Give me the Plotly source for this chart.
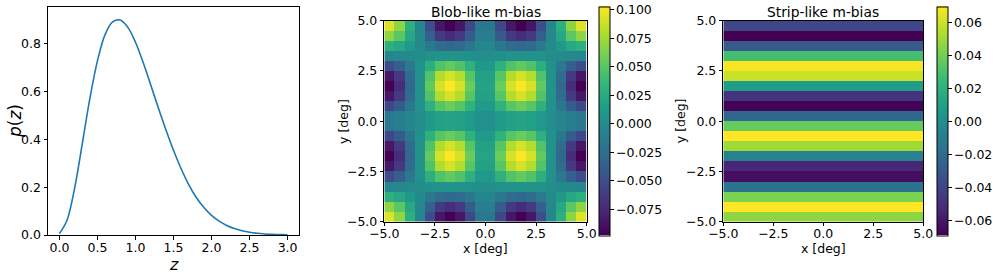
import plotly.graph_objects as go

# ---------------- data ----------------
z_grid = [0.0, 0.1, 0.2, 0.3, 0.4, 0.5, 0.6, 0.7, 0.8, 0.9, 1.0,
          1.1, 1.2, 1.3, 1.4, 1.5, 1.6, 1.7, 1.8, 1.9, 2.0,
          2.1, 2.2, 2.3, 2.4, 2.5, 2.6, 2.7, 2.8, 2.9, 3.0]
p_z = [0.006, 0.062, 0.196, 0.380, 0.570, 0.728, 0.838, 0.891, 0.899, 0.868, 0.806,
       0.722, 0.628, 0.532, 0.440, 0.354, 0.277, 0.211, 0.157, 0.115, 0.082,
       0.058, 0.040, 0.027, 0.018, 0.0115, 0.0072, 0.0044, 0.0026, 0.0015, 0.0008]

cell_centers = [-4.75, -4.25, -3.75, -3.25, -2.75, -2.25, -1.75, -1.25, -0.75, -0.25,
                0.25, 0.75, 1.25, 1.75, 2.25, 2.75, 3.25, 3.75, 4.25, 4.75]
row_centers_top_down = [4.75, 4.25, 3.75, 3.25, 2.75, 2.25, 1.75, 1.25, 0.75, 0.25,
                        -0.25, -0.75, -1.25, -1.75, -2.25, -2.75, -3.25, -3.75, -4.25, -4.75]

# blob-like m-bias, rows listed from top (y=4.75) to bottom (y=-4.75)
blob_bias = [
    [0.0930, 0.0685, 0.0294, -0.0049, -0.0509, -0.0861, -0.0979, -0.0861, -0.0538, -0.0176, -0.0176, -0.0538, -0.0861, -0.0979, -0.0861, -0.0509, -0.0049, 0.0294, 0.0685, 0.0930],
    [0.0685, 0.0505, 0.0216, -0.0036, -0.0375, -0.0634, -0.0721, -0.0634, -0.0397, -0.0130, -0.0130, -0.0397, -0.0634, -0.0721, -0.0634, -0.0375, -0.0036, 0.0216, 0.0505, 0.0685],
    [0.0294, 0.0216, 0.0093, -0.0015, -0.0161, -0.0272, -0.0309, -0.0272, -0.0170, -0.0056, -0.0056, -0.0170, -0.0272, -0.0309, -0.0272, -0.0161, -0.0015, 0.0093, 0.0216, 0.0294],
    [-0.0049, -0.0036, -0.0015, 0.0003, 0.0027, 0.0045, 0.0052, 0.0045, 0.0028, 0.0009, 0.0009, 0.0028, 0.0045, 0.0052, 0.0045, 0.0027, 0.0003, -0.0015, -0.0036, -0.0049],
    [-0.0509, -0.0375, -0.0161, 0.0027, 0.0279, 0.0471, 0.0536, 0.0471, 0.0295, 0.0096, 0.0096, 0.0295, 0.0471, 0.0536, 0.0471, 0.0279, 0.0027, -0.0161, -0.0375, -0.0509],
    [-0.0861, -0.0634, -0.0272, 0.0045, 0.0471, 0.0798, 0.0906, 0.0798, 0.0499, 0.0163, 0.0163, 0.0499, 0.0798, 0.0906, 0.0798, 0.0471, 0.0045, -0.0272, -0.0634, -0.0861],
    [-0.0979, -0.0721, -0.0309, 0.0052, 0.0536, 0.0906, 0.1030, 0.0906, 0.0567, 0.0185, 0.0185, 0.0567, 0.0906, 0.1030, 0.0906, 0.0536, 0.0052, -0.0309, -0.0721, -0.0979],
    [-0.0861, -0.0634, -0.0272, 0.0045, 0.0471, 0.0798, 0.0906, 0.0798, 0.0499, 0.0163, 0.0163, 0.0499, 0.0798, 0.0906, 0.0798, 0.0471, 0.0045, -0.0272, -0.0634, -0.0861],
    [-0.0538, -0.0397, -0.0170, 0.0028, 0.0295, 0.0499, 0.0567, 0.0499, 0.0312, 0.0102, 0.0102, 0.0312, 0.0499, 0.0567, 0.0499, 0.0295, 0.0028, -0.0170, -0.0397, -0.0538],
    [-0.0176, -0.0130, -0.0056, 0.0009, 0.0096, 0.0163, 0.0185, 0.0163, 0.0102, 0.0033, 0.0033, 0.0102, 0.0163, 0.0185, 0.0163, 0.0096, 0.0009, -0.0056, -0.0130, -0.0176],
    [-0.0176, -0.0130, -0.0056, 0.0009, 0.0096, 0.0163, 0.0185, 0.0163, 0.0102, 0.0033, 0.0033, 0.0102, 0.0163, 0.0185, 0.0163, 0.0096, 0.0009, -0.0056, -0.0130, -0.0176],
    [-0.0538, -0.0397, -0.0170, 0.0028, 0.0295, 0.0499, 0.0567, 0.0499, 0.0312, 0.0102, 0.0102, 0.0312, 0.0499, 0.0567, 0.0499, 0.0295, 0.0028, -0.0170, -0.0397, -0.0538],
    [-0.0861, -0.0634, -0.0272, 0.0045, 0.0471, 0.0798, 0.0906, 0.0798, 0.0499, 0.0163, 0.0163, 0.0499, 0.0798, 0.0906, 0.0798, 0.0471, 0.0045, -0.0272, -0.0634, -0.0861],
    [-0.0979, -0.0721, -0.0309, 0.0052, 0.0536, 0.0906, 0.1030, 0.0906, 0.0567, 0.0185, 0.0185, 0.0567, 0.0906, 0.1030, 0.0906, 0.0536, 0.0052, -0.0309, -0.0721, -0.0979],
    [-0.0861, -0.0634, -0.0272, 0.0045, 0.0471, 0.0798, 0.0906, 0.0798, 0.0499, 0.0163, 0.0163, 0.0499, 0.0798, 0.0906, 0.0798, 0.0471, 0.0045, -0.0272, -0.0634, -0.0861],
    [-0.0509, -0.0375, -0.0161, 0.0027, 0.0279, 0.0471, 0.0536, 0.0471, 0.0295, 0.0096, 0.0096, 0.0295, 0.0471, 0.0536, 0.0471, 0.0279, 0.0027, -0.0161, -0.0375, -0.0509],
    [-0.0049, -0.0036, -0.0015, 0.0003, 0.0027, 0.0045, 0.0052, 0.0045, 0.0028, 0.0009, 0.0009, 0.0028, 0.0045, 0.0052, 0.0045, 0.0027, 0.0003, -0.0015, -0.0036, -0.0049],
    [0.0294, 0.0216, 0.0093, -0.0015, -0.0161, -0.0272, -0.0309, -0.0272, -0.0170, -0.0056, -0.0056, -0.0170, -0.0272, -0.0309, -0.0272, -0.0161, -0.0015, 0.0093, 0.0216, 0.0294],
    [0.0685, 0.0505, 0.0216, -0.0036, -0.0375, -0.0634, -0.0721, -0.0634, -0.0397, -0.0130, -0.0130, -0.0397, -0.0634, -0.0721, -0.0634, -0.0375, -0.0036, 0.0216, 0.0505, 0.0685],
    [0.0930, 0.0685, 0.0294, -0.0049, -0.0509, -0.0861, -0.0979, -0.0861, -0.0538, -0.0176, -0.0176, -0.0538, -0.0861, -0.0979, -0.0861, -0.0509, -0.0049, 0.0294, 0.0685, 0.0930],
]

# strip-like m-bias: one value per row, top (y=4.75) to bottom (y=-4.75)
strip_x_edges = [-5.0, 5.0]
strip_bias = [-0.039, -0.069, -0.030, 0.028, 0.069, 0.059, 0.007, -0.048, -0.068, -0.023,
              0.037, 0.070, 0.050, -0.007, -0.054, -0.064, -0.016, 0.042, 0.070, 0.046]

# tick labels
pz_xticks = [0.0, 0.5, 1.0, 1.5, 2.0, 2.5, 3.0]
pz_xticklabels = ["0.0", "0.5", "1.0", "1.5", "2.0", "2.5", "3.0"]
pz_yticks = [0.0, 0.2, 0.4, 0.6, 0.8]
pz_yticklabels = ["0.0", "0.2", "0.4", "0.6", "0.8"]
deg_ticks = [-5.0, -2.5, 0.0, 2.5, 5.0]
deg_ticklabels = ["\u22125.0", "\u22122.5", "0.0", "2.5", "5.0"]
blob_cb_ticks = [0.100, 0.075, 0.050, 0.025, 0.000, -0.025, -0.050, -0.075]
blob_cb_labels = ["0.100", "0.075", "0.050", "0.025", "0.000", "\u22120.025", "\u22120.050", "\u22120.075"]
strip_cb_ticks = [0.06, 0.04, 0.02, 0.00, -0.02, -0.04, -0.06]
strip_cb_labels = ["0.06", "0.04", "0.02", "0.00", "\u22120.02", "\u22120.04", "\u22120.06"]

# ---------------- layout helpers ----------------
W, H = 997, 275
FONT = "DejaVu Sans"
TICK_SIZE = 12.5


def fx(px):
    return px / W


def fy(py):
    return 1 - py / H


cb_rows = [[v] for v in strip_bias]

fig = go.Figure()

fig.add_trace(go.Scatter(x=z_grid, y=p_z, mode="lines", line=dict(color="#1f77b4", width=1.6, shape="spline"),
                         xaxis="x", yaxis="y", showlegend=False, hoverinfo="skip"))

common_cb = dict(thickness=10.5, thicknessmode="pixels", lenmode="fraction",
                 len=(235.3 - 6.7) / H, y=fy(121), yanchor="middle", xanchor="left",
                 xpad=0, ypad=0, ticks="outside", ticklen=3.5, tickwidth=1, tickcolor="black",
                 outlinewidth=1, outlinecolor="black",
                 tickfont=dict(family=FONT, size=TICK_SIZE, color="black"), tickmode="array")

fig.add_trace(go.Heatmap(z=blob_bias, x=cell_centers, y=row_centers_top_down, colorscale="Viridis",
                         xaxis="x2", yaxis="y2", hoverinfo="skip",
                         colorbar=dict(x=fx(599.3), tickvals=blob_cb_ticks, ticktext=blob_cb_labels, **common_cb)))

fig.add_trace(go.Heatmap(z=cb_rows, x=strip_x_edges, y=row_centers_top_down, colorscale="Viridis",
                         xaxis="x3", yaxis="y3", hoverinfo="skip",
                         colorbar=dict(x=fx(936.7), tickvals=strip_cb_ticks, ticktext=strip_cb_labels, **common_cb)))

axis_common = dict(showline=True, linecolor="black", linewidth=1, mirror=True, ticks="outside",
                   ticklen=3.5, tickwidth=1, tickcolor="black", showgrid=False, zeroline=False,
                   automargin=False,
                   tickfont=dict(family=FONT, size=TICK_SIZE, color="black"), tickmode="array")
x_extra = dict(ticklabelstandoff=-3)

fig.update_layout(
    width=W, height=H, margin=dict(l=0, r=0, t=0, b=0, pad=0, autoexpand=False),
    paper_bgcolor="white", plot_bgcolor="white",
    font=dict(family=FONT, color="black"),
    xaxis=dict(domain=[fx(48), fx(299)], range=[-0.15, 3.15], anchor="y",
               tickvals=pz_xticks, ticktext=pz_xticklabels, **axis_common, **x_extra),
    yaxis=dict(domain=[fy(235), fy(7.3)], range=[0, 0.952], anchor="x",
               tickvals=pz_yticks, ticktext=pz_yticklabels, **axis_common),
    xaxis2=dict(domain=[fx(384.3), fx(586.7)], range=[-5, 5], anchor="y2",
                tickvals=deg_ticks, ticktext=deg_ticklabels, **axis_common, **x_extra),
    yaxis2=dict(domain=[fy(221.7), fy(20.7)], range=[-5, 5], anchor="x2",
                tickvals=deg_ticks, ticktext=deg_ticklabels, **axis_common),
    xaxis3=dict(domain=[fx(723.3), fx(923.3)], range=[-5, 5], anchor="y3",
                tickvals=deg_ticks, ticktext=deg_ticklabels, **axis_common, **x_extra),
    yaxis3=dict(domain=[fy(221.7), fy(20.7)], range=[-5, 5], anchor="x3",
                tickvals=deg_ticks, ticktext=deg_ticklabels, **axis_common),
)


def label(text, px, py, size, angle=0):
    fig.add_annotation(text=text, x=fx(px), y=fy(py), xref="paper", yref="paper",
                       xanchor="center", yanchor="middle", showarrow=False, textangle=angle,
                       borderpad=0, font=dict(family=FONT, size=size, color="black"))


label("<i>z</i>", 173.5, 264, 16)
label("<i>p</i>(<i>z</i>)", 15, 121, 17, -90)
label("y [deg]", 342.7, 121.2, TICK_SIZE, -90)
label("x [deg]", 485.5, 249, TICK_SIZE)
label("Blob-like m-bias", 485.5, 12.3, 13.8)
label("y [deg]", 680, 121.2, TICK_SIZE, -90)
label("x [deg]", 823.3, 249, TICK_SIZE)
label("Strip-like m-bias", 823.3, 12.3, 13.8)

fig.write_html("out.html", config={"displayModeBar": False, "staticPlot": True},
               post_script="document.body.style.margin='0';document.body.style.overflow='hidden';")
